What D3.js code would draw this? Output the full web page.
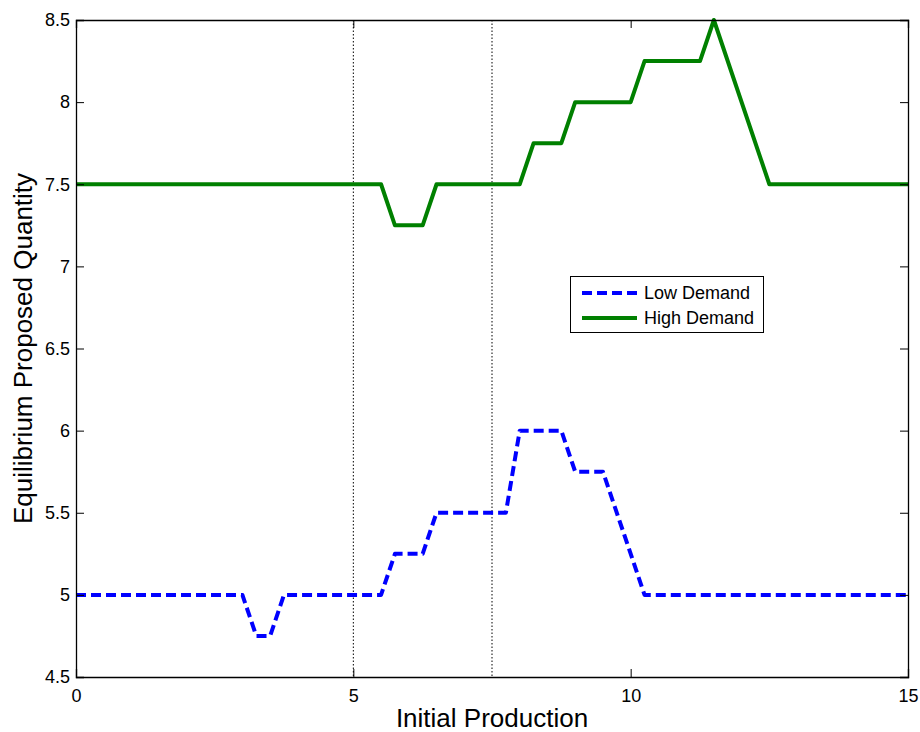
<!DOCTYPE html>
<html>
<head>
<meta charset="utf-8">
<script src="https://cdn.jsdelivr.net/npm/d3@7"></script>
<style>
  html, body { margin: 0; padding: 0; background: #fff; }
  svg { display: block; font-family: "Liberation Sans", Arial, Helvetica, sans-serif; }
</style>
</head>
<body>
<svg id="chart" width="920" height="732"></svg>
<script>
// ---- data ----
const lowX  = [0, 3, 3.25, 3.5, 3.75, 5.5, 5.75, 6.25, 6.5, 7.75, 8, 8.75, 9, 9.5, 10.25, 15];
const lowY  = [5, 5, 4.75, 4.75, 5, 5, 5.25, 5.25, 5.5, 5.5, 6, 6, 5.75, 5.75, 5, 5];
const highX = [0, 5.5, 5.75, 6.25, 6.5, 8, 8.25, 8.75, 9, 10, 10.25, 11.25, 11.5, 12.5, 15];
const highY = [7.5, 7.5, 7.25, 7.25, 7.5, 7.5, 7.75, 7.75, 8, 8, 8.25, 8.25, 8.5, 7.5, 7.5];
const xTicks = [0, 5, 10, 15];
const yTicks = [4.5, 5, 5.5, 6, 6.5, 7, 7.5, 8, 8.5];
const vLines = [5, 7.5];
const seriesNames = ["Low Demand", "High Demand"];

const svg = d3.select("#chart");
const L = 76, R = 908, T = 20, B = 677;
const x = d3.scaleLinear().domain([0, 15]).range([L, R]);
const y = d3.scaleLinear().domain([4.5, 8.5]).range([B, T]);

// dotted vertical lines
svg.selectAll("line.v").data(vLines).enter().append("line")
  .attr("x1", d => x(d)).attr("x2", d => x(d))
  .attr("y1", T).attr("y2", B)
  .attr("stroke", "#000").attr("stroke-width", 1)
  .attr("stroke-dasharray", "1.5,2");

const line = d3.line().x(d => x(d[0])).y(d => y(d[1]));
const lowData = lowX.map((v, i) => [v, lowY[i]]);
const highData = highX.map((v, i) => [v, highY[i]]);

svg.append("path").datum(lowData).attr("d", line)
  .attr("fill", "none").attr("stroke", "#0000ff").attr("stroke-width", 4)
  .attr("stroke-dasharray", "10,5").attr("stroke-linejoin", "round");
svg.append("path").datum(highData).attr("d", line)
  .attr("fill", "none").attr("stroke", "#008000").attr("stroke-width", 4)
  .attr("stroke-linejoin", "round");

// axes (ticks inward on all four sides)
const tl = 8;
const gB = svg.append("g").attr("transform", `translate(0,${B})`)
  .call(d3.axisBottom(x).tickValues(xTicks).tickSize(-tl).tickPadding(14).tickFormat(d3.format("")));
const gT = svg.append("g").attr("transform", `translate(0,${T})`)
  .call(d3.axisTop(x).tickValues(xTicks).tickSize(-tl).tickFormat(""));
const gL = svg.append("g").attr("transform", `translate(${L},0)`)
  .call(d3.axisLeft(y).tickValues(yTicks).tickSize(-tl).tickPadding(14).tickFormat(d3.format("")));
const gR = svg.append("g").attr("transform", `translate(${R},0)`)
  .call(d3.axisRight(y).tickValues(yTicks).tickSize(-tl).tickFormat(""));
[gB, gT, gL, gR].forEach(g => {
  g.select(".domain").attr("stroke", "#000").attr("stroke-width", 1.3);
  g.selectAll(".tick line").attr("stroke", "#000").attr("stroke-width", 1);
  g.selectAll("text").attr("font-size", 18).attr("fill", "#000")
    .attr("font-family", "'Liberation Sans', Arial, sans-serif");
});
gL.selectAll("text").attr("x", -6);
gB.selectAll("text").attr("y", 12);

// axis labels
svg.append("text").attr("x", (L + R) / 2).attr("y", 727)
  .attr("text-anchor", "middle").attr("font-size", 26).text("Initial Production");
svg.append("text").attr("transform", `translate(32,${(T + B) / 2}) rotate(-90)`)
  .attr("text-anchor", "middle").attr("font-size", 26).text("Equilibrium Proposed Quantity");

// legend
const lg = svg.append("g");
lg.append("rect").attr("x", 570.5).attr("y", 276.5).attr("width", 193).attr("height", 56)
  .attr("fill", "#fff").attr("stroke", "#000").attr("stroke-width", 1);
const legendStyles = [
  { color: "#0000ff", dash: "10,5" },
  { color: "#008000", dash: null }
];
seriesNames.forEach((name, i) => {
  const yy = 293 + i * 25;
  lg.append("line").attr("x1", 582).attr("x2", 637).attr("y1", yy).attr("y2", yy)
    .attr("stroke", legendStyles[i].color).attr("stroke-width", 4)
    .attr("stroke-dasharray", legendStyles[i].dash);
  lg.append("text").attr("x", 644).attr("y", yy).attr("dy", "0.35em")
    .attr("font-size", 18).text(name);
});
</script>
</body>
</html>
